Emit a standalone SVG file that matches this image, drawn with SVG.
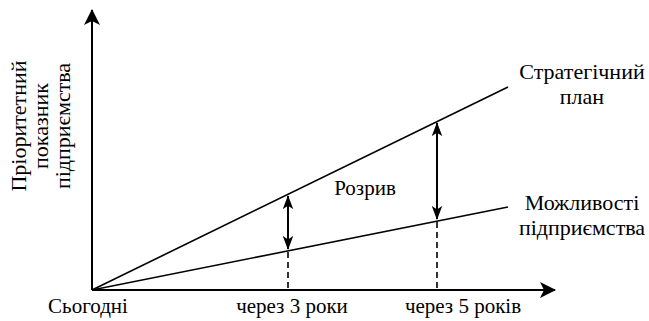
<svg xmlns="http://www.w3.org/2000/svg" width="649" height="321" viewBox="0 0 649 321">
<defs>
<marker id="ah" viewBox="0 0 16 16" refX="15" refY="8" markerWidth="16" markerHeight="16" markerUnits="userSpaceOnUse" orient="auto-start-reverse">
<path d="M0,0 L16,8 L0,16 L4,8 Z" fill="#000"/>
</marker>
<marker id="sh" viewBox="0 0 16 12" refX="15" refY="6" markerWidth="14" markerHeight="11" markerUnits="userSpaceOnUse" orient="auto-start-reverse">
<path d="M0,0 L16,6 L0,12 L4,6 Z" fill="#000"/>
</marker>
</defs>
<style>
text{font-family:"Liberation Serif","Times New Roman",serif;fill:#000;text-anchor:middle}
.big{font-size:22px}
.mid{font-size:21px}
.ax{stroke:#000;stroke-width:2;fill:none}
.ln{stroke:#000;stroke-width:1.6;fill:none}
.dash{stroke:#000;stroke-width:1.6;stroke-dasharray:6,4;fill:none}
.arr{stroke:#000;stroke-width:2;fill:none}
</style>
<rect width="649" height="321" fill="#fff"/>
<g id="connectors">
<line class="ax" x1="92" y1="290" x2="92" y2="10" marker-end="url(#ah)"/>
<line class="ax" x1="92" y1="290" x2="555" y2="290" marker-end="url(#ah)"/>
<line class="ln" x1="92" y1="290" x2="508" y2="87"/>
<line class="ln" x1="92" y1="290" x2="508" y2="207"/>
<line class="arr" x1="288" y1="196" x2="288" y2="249" marker-start="url(#sh)" marker-end="url(#sh)"/>
<line class="dash" x1="288" y1="252" x2="288" y2="289"/>
<line class="arr" x1="437" y1="123" x2="437" y2="219" marker-start="url(#sh)" marker-end="url(#sh)"/>
<line class="dash" x1="437" y1="222" x2="437" y2="289"/>
</g>
<g id="y-label">
<text class="big" transform="translate(26,126) rotate(-90)">Пріоритетний</text>
<text class="big" transform="translate(48,126) rotate(-90)">показник</text>
<text class="big" transform="translate(70,126) rotate(-90)">підприємства</text>
</g>
<g id="strategic-plan">
<text class="big" x="582" y="79">Стратегічний</text>
<text class="big" x="582" y="104">план</text>
</g>
<g id="capabilities">
<text class="big" x="582" y="210">Можливості</text>
<text class="big" x="582" y="235">підприємства</text>
</g>
<g id="gap">
<text class="mid" x="365" y="195">Розрив</text>
</g>
<g id="x-labels">
<text class="mid" x="88" y="313">Сьогодні</text>
<text class="mid" x="292" y="313">через 3 роки</text>
<text class="mid" x="463" y="313">через 5 років</text>
</g>
</svg>
